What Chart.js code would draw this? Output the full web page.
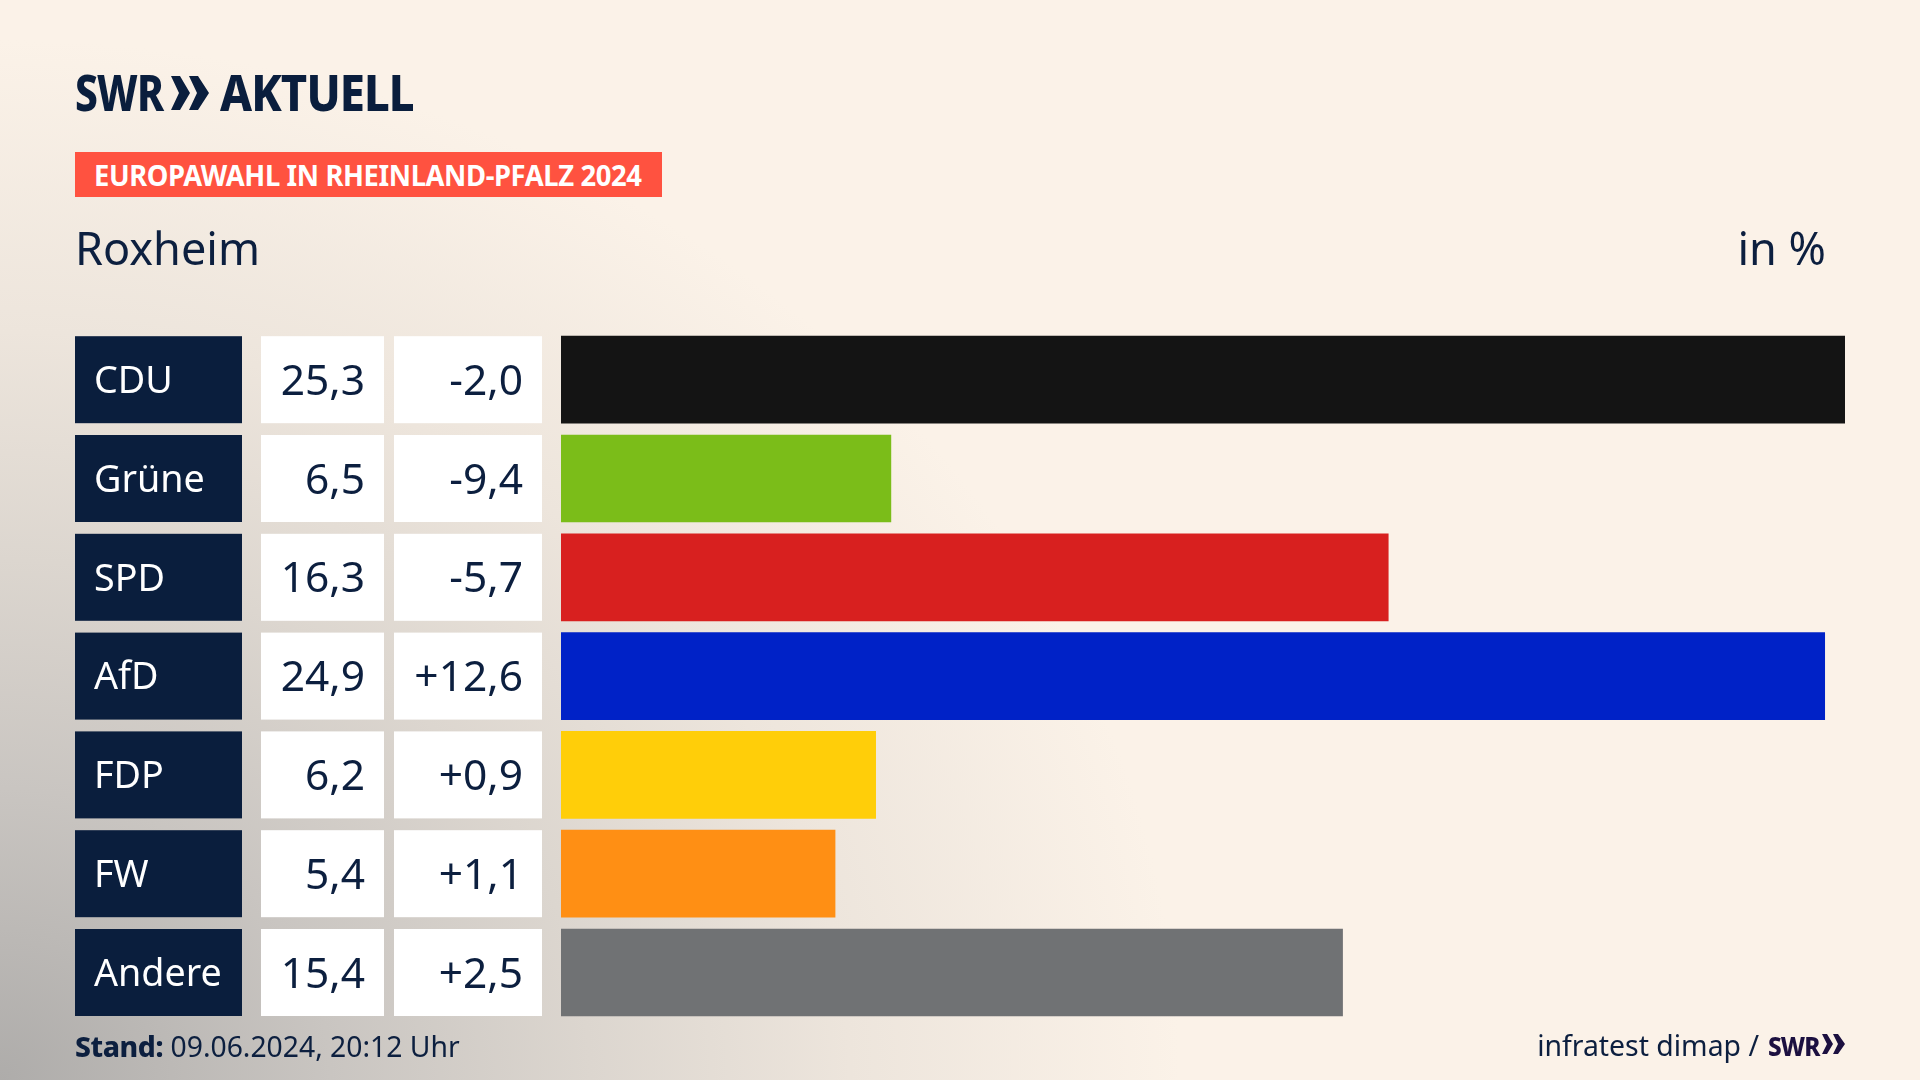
<!DOCTYPE html>
<html lang="de"><head><meta charset="utf-8"><title>Europawahl Roxheim</title>
<script src="https://cdn.jsdelivr.net/npm/chart.js@4"></script>
<style>
html,body{margin:0;padding:0;width:1920px;height:1080px;overflow:hidden}
body{position:relative;font-family:"Noto Sans",sans-serif;color:#0c1f3f;
background:radial-gradient(ellipse 1180px 1040px at 0% 100%,#aeacaa 0%,#c9c5c1 28%,#dcd6cf 50%,#ede5dc 72%,#fbf2e8 100%),#fbf2e8}
canvas{position:absolute;left:0;top:0}
.t{position:absolute;white-space:nowrap;line-height:1;transform-origin:left top}
svg{position:absolute}
</style></head><body>
<canvas id="c" width="1920" height="1080" style="width:1920px;height:1080px"></canvas>
<div class="t" style="left:75px;top:68px;font-size:49px;font-weight:800;color:#0a1e3d;letter-spacing:-1px;transform:scaleX(.83)">SWR</div>
<svg style="left:170px;top:74px" width="40" height="38" viewBox="0 0 40 38"><path fill="#0a1e3d" d="M1 2h9l10 17L10 36H1l8-17zM19 2h9l11 17-11 17h-9l8-17z"/></svg>
<div class="t" style="left:220px;top:68px;font-size:49px;font-weight:800;color:#0a1e3d;letter-spacing:-1px;transform:scaleX(.925)">AKTUELL</div>
<div style="position:absolute;left:75px;top:152px;width:587px;height:45px;background:#ff5240"></div>
<div class="t" style="left:94px;top:161px;font-size:28px;font-weight:700;color:#fff;letter-spacing:-.4px;transform:scaleX(.978)">EUROPAWAHL IN RHEINLAND-PFALZ 2024</div>
<div class="t" style="left:75px;top:225px;font-size:45px">Roxheim</div>
<div class="t" style="right:94px;top:225px;font-size:45px">in %</div>
<div class="t" style="left:75px;top:1032px;font-size:28.3px"><b style="font-weight:800;letter-spacing:-.4px">Stand:</b> 09.06.2024, 20:12 Uhr</div>
<div class="t" style="right:161px;top:1031px;font-size:28.4px">infratest dimap /</div>
<div class="t" style="left:1768px;top:1032px;font-size:27px;font-weight:800;color:#1c1040;letter-spacing:-1px;transform:scaleX(.9)">SWR</div>
<svg style="left:1822px;top:1033px" width="24" height="22" viewBox="0 0 24 22"><path fill="#1c1040" d="M0 1h5l6 10-6 10H0l5-10zM11 1h5l7 10-7 10h-5l5-10z"/></svg>
<script>
const categories = ["CDU","Grüne","SPD","AfD","FDP","FW","Andere"];
const shares = [25.3,6.5,16.3,24.9,6.2,5.4,15.4];
const changes = ["-2,0","-9,4","-5,7","+12,6","+0,9","+1,1","+2,5"];
const shareLabels = ["25,3","6,5","16,3","24,9","6,2","5,4","15,4"];
const colors = ["#141414","#7bbd19","#d8201f","#0022c7","#ffce09","#ff8f14","#707274"];

const cells = {
  id:"cells",
  beforeDatasetsDraw(chart){
    const {ctx,scales:{y}} = chart;
    ctx.save();
    categories.forEach((c,i)=>{
      const cy = y.getPixelForValue(i), top = cy-43.5;
      ctx.fillStyle="#0a1e3d"; ctx.fillRect(75,top,167,87);
      ctx.fillStyle="#fff"; ctx.fillRect(261,top,123,87); ctx.fillRect(394,top,148,87);
    });
    ctx.restore();
  },
  afterDatasetsDraw(chart){
    const {ctx,scales:{y}} = chart;
    ctx.save();
    ctx.font='42.5px "Noto Sans"'; ctx.fillStyle="#0c1f3f"; ctx.textAlign="right"; ctx.textBaseline="middle";
    categories.forEach((c,i)=>{
      const cy = y.getPixelForValue(i)+3;
      ctx.fillText(shareLabels[i],365,cy);
      ctx.fillText(changes[i],523,cy);
    });
    ctx.restore();
  }
};
new Chart(document.getElementById("c"),{
  type:"bar",
  data:{labels:categories,datasets:[{data:shares,backgroundColor:colors,barThickness:87,borderWidth:0}]},
  options:{
    indexAxis:"y",responsive:false,animation:false,
    layout:{padding:{left:94,right:75,top:330.3,bottom:58.1}},
    plugins:{legend:{display:false},tooltip:{enabled:false}},
    scales:{
      x:{display:false,min:0,max:25.3},
      y:{
        grid:{display:false},border:{display:false},
        afterFit(s){s.width=467},
        ticks:{z:1,crossAlign:"far",labelOffset:2.5,color:"#fff",font:{family:"Noto Sans",size:37.7},padding:0}
      }
    }
  },
  plugins:[cells]
});
</script>
</body></html>
